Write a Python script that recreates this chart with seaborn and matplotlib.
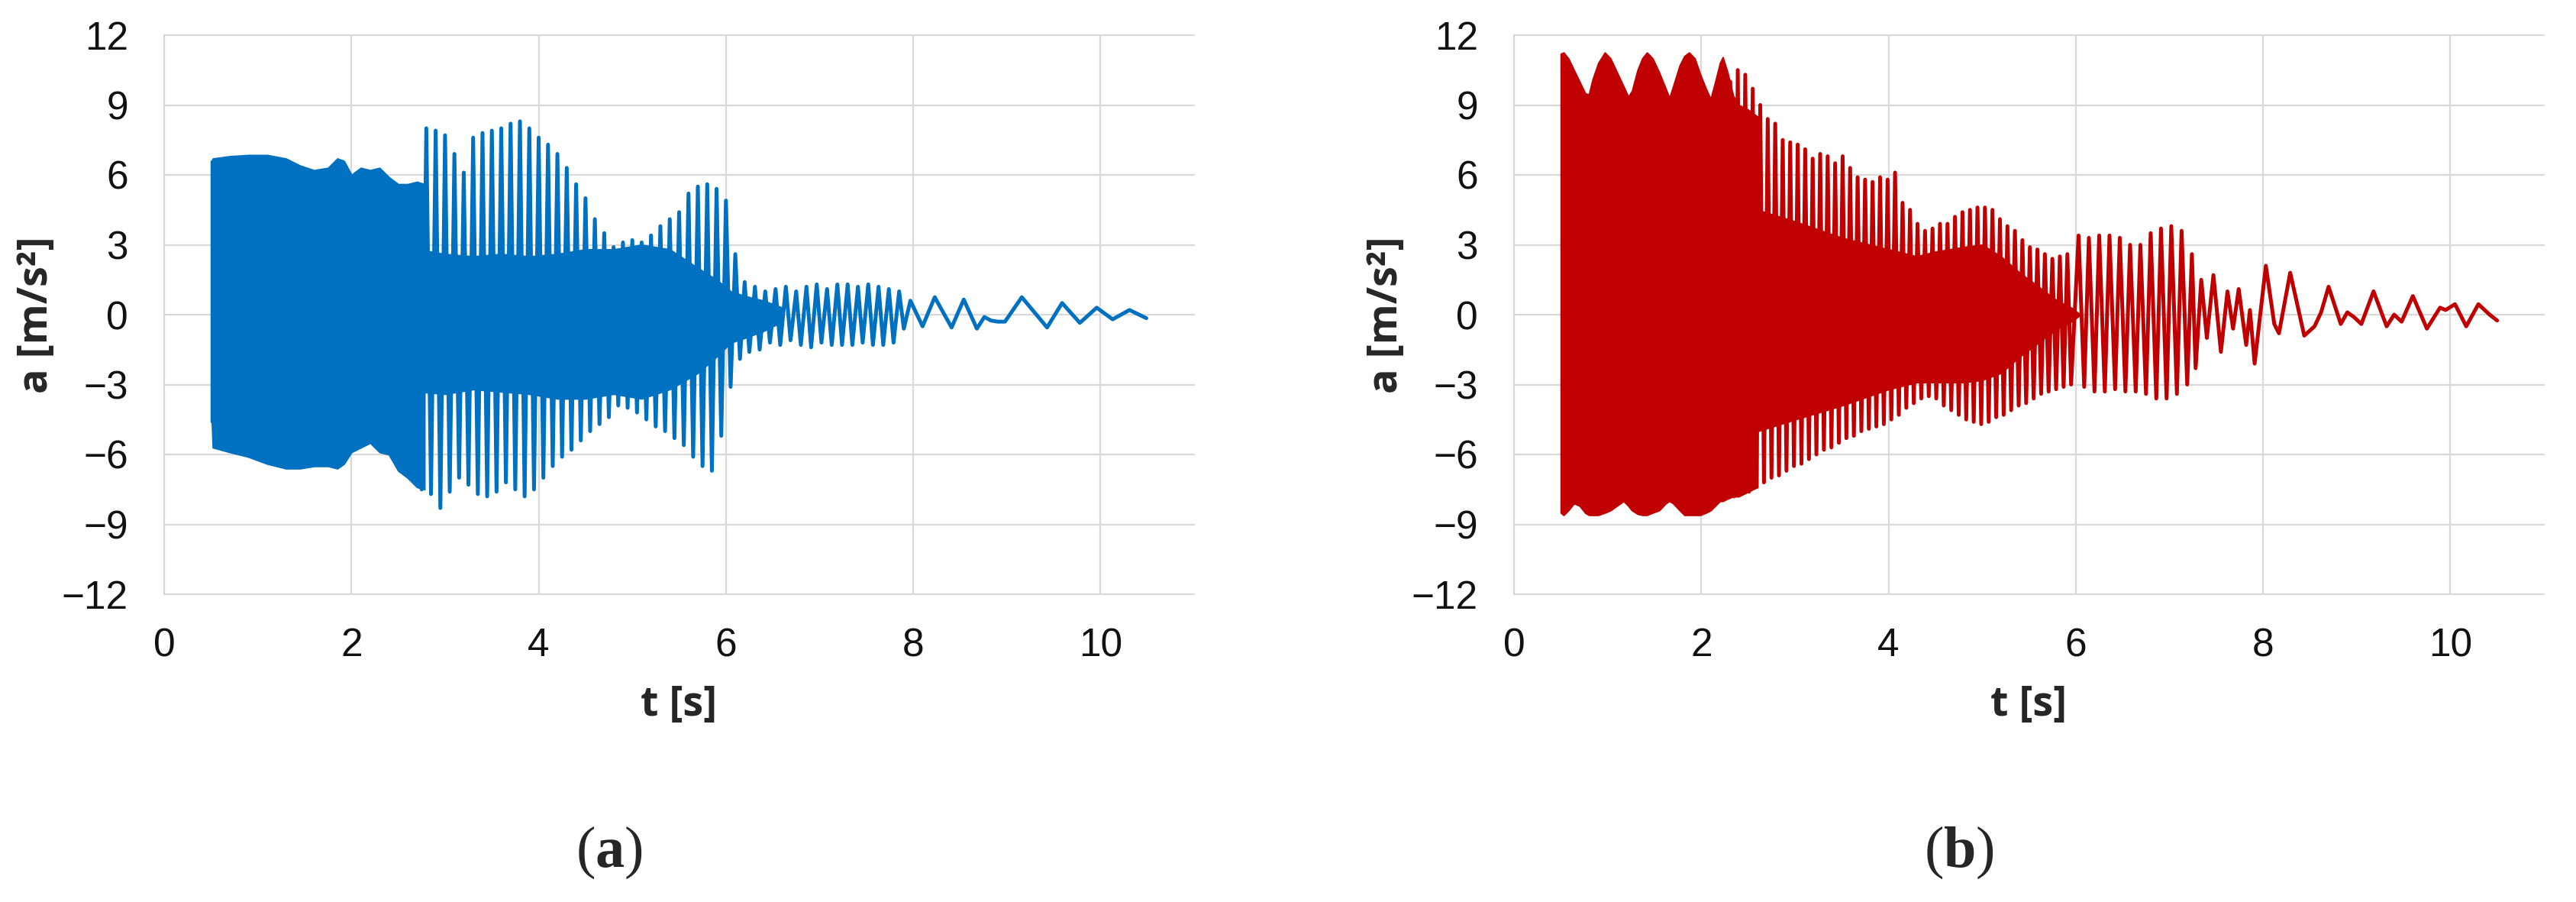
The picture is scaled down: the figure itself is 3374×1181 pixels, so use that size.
import matplotlib
matplotlib.use("Agg")
import matplotlib.pyplot as plt
import seaborn as sns
import numpy as np

# ---- (a) blue signal ----
# dense block at the start: upper / lower edge
t_band_a = [0.50, 0.51, 0.52, 0.70, 0.90, 1.10, 1.30, 1.45, 1.60, 1.75, 1.85,
            1.92, 2.00, 2.10, 2.20, 2.30, 2.40, 2.50, 2.60, 2.70, 2.78]
up_band_a = [6.6, 6.6, 6.7, 6.8, 6.85, 6.85, 6.7, 6.4, 6.2, 6.3, 6.7,
             6.6, 6.0, 6.3, 6.2, 6.3, 5.9, 5.6, 5.6, 5.7, 5.6]
lo_band_a = [-4.6, -4.6, -5.7, -5.9, -6.1, -6.4, -6.6, -6.6, -6.5, -6.5, -6.6,
             -6.4, -5.9, -5.7, -5.5, -5.9, -6.0, -6.7, -7.0, -7.4, -7.5]

# solid core under the spikes
t_core_a = [2.70, 3.0, 3.3, 3.6, 3.9, 4.2, 4.5, 4.8, 5.1, 5.4, 5.7, 5.9, 6.05, 6.2, 6.4, 6.6]
up_core_a = [2.8, 2.6, 2.5, 2.6, 2.5, 2.6, 2.8, 2.8, 3.0, 2.8, 2.0, 1.5, 1.0, 0.8, 0.6, 0.3]
lo_core_a = [-3.3, -3.4, -3.2, -3.3, -3.4, -3.6, -3.6, -3.4, -3.6, -3.2, -2.5, -1.8, -1.2, -1.0, -0.7, -0.3]

# peaks of the oscillation (max / min alternating)
t_osc_a = [2.75, 2.80, 2.85, 2.90, 2.95, 3.00, 3.05, 3.10, 3.15, 3.20,
           3.25, 3.30, 3.35, 3.40, 3.45, 3.50, 3.55, 3.60, 3.65, 3.70,
           3.75, 3.80, 3.85, 3.90, 3.95, 4.00, 4.05, 4.10, 4.15, 4.20,
           4.25, 4.30, 4.35, 4.40, 4.45, 4.50, 4.55, 4.60, 4.65, 4.70,
           4.75, 4.80, 4.85, 4.90, 4.95, 5.00, 5.05, 5.10, 5.15, 5.20,
           5.25, 5.30, 5.35, 5.40, 5.45, 5.50, 5.55, 5.60, 5.65, 5.70,
           5.75, 5.80, 5.85, 5.90, 5.95, 6.00, 6.05, 6.10,
           6.15, 6.20, 6.25, 6.31, 6.36, 6.42, 6.47, 6.53, 6.58, 6.64,
           6.69, 6.75, 6.80, 6.86, 6.91, 6.97, 7.02, 7.08, 7.13, 7.19,
           7.24, 7.30, 7.35, 7.41, 7.46, 7.52, 7.57, 7.63, 7.68, 7.74,
           7.79, 7.85, 7.90, 7.97, 8.10, 8.23, 8.41, 8.54, 8.68, 8.76,
           8.83, 8.90, 8.98, 9.16, 9.43, 9.59, 9.78, 9.96, 10.13, 10.31, 10.49]
a_osc_a = [-7.5, 8.0, -7.7, 7.9, -8.3, 7.7, -7.6, 6.9, -7.0, 6.1,
           -7.3, 7.6, -7.7, 7.8, -7.8, 7.9, -7.6, 8.0, -7.2, 8.2,
           -7.5, 8.3, -7.8, 8.0, -7.5, 7.6, -7.0, 7.3, -6.5, 6.9,
           -6.1, 6.3, -5.8, 5.6, -5.4, 5.0, -5.0, 4.1, -4.7, 3.5,
           -4.4, 2.9, -3.9, 3.1, -4.0, 3.2, -4.2, 3.1, -4.5, 3.4,
           -4.8, 3.8, -5.0, 4.1, -5.3, 4.4, -5.6, 5.2, -6.1, 5.5,
           -6.5, 5.6, -6.7, 5.4, -5.2, 4.9, -3.1, 2.6,
           -1.9, 1.4, -1.6, 1.2, -1.5, 1.0, -1.2, 1.1, -1.3, 1.2,
           -1.1, 1.0, -1.3, 1.2, -1.4, 1.3, -1.2, 1.1, -1.3, 1.3,
           -1.3, 1.3, -1.3, 1.2, -1.2, 1.3, -1.3, 1.2, -1.3, 1.1,
           -1.2, 1.0, -0.6, 0.6, -0.5, 0.75, -0.55, 0.65, -0.6, -0.1,
           -0.25, -0.3, -0.3, 0.75, -0.55, 0.5, -0.35, 0.3, -0.2, 0.2, -0.15]

# ---- (b) red signal ----
t_band_b = [0.50, 0.53, 0.58, 0.64, 0.70, 0.76, 0.80, 0.84, 0.90, 0.97,
            1.03, 1.10, 1.17, 1.22, 1.26, 1.32, 1.37, 1.42, 1.48, 1.55,
            1.62, 1.66, 1.70, 1.77, 1.82, 1.87, 1.93, 1.99, 2.05, 2.10,
            2.15, 2.20, 2.23, 2.28, 2.34, 2.40, 2.50, 2.60]
up_band_b = [11.2, 11.25, 11.0, 10.5, 10.0, 9.5, 9.45, 10.1, 10.8, 11.25,
             11.0, 10.4, 9.8, 9.35, 9.6, 10.5, 11.0, 11.25, 11.0, 10.4,
             9.7, 9.3, 9.8, 10.7, 11.1, 11.25, 11.0, 10.3, 9.7, 9.25,
             10.0, 10.8, 11.05, 10.4, 9.4, 9.0, 8.8, 8.5]
lo_band_b = [-8.5, -8.6, -8.4, -8.1, -8.2, -8.5, -8.6, -8.6, -8.6, -8.5,
             -8.4, -8.2, -8.0, -8.2, -8.4, -8.55, -8.6, -8.6, -8.5, -8.4,
             -8.1, -8.0, -8.1, -8.4, -8.6, -8.6, -8.6, -8.6, -8.5, -8.4,
             -8.2, -8.0, -8.0, -7.9, -7.8, -7.8, -7.6, -7.4]

t_core_b = [2.60, 3.0, 3.5, 4.0, 4.3, 4.5, 4.8, 5.0, 5.2, 5.4, 5.6, 5.8, 5.95, 6.05]
up_core_b = [4.5, 4.0, 3.3, 2.8, 2.5, 2.7, 2.9, 3.0, 2.5, 1.8, 1.2, 0.6, 0.3, 0.0]
lo_core_b = [-5.0, -4.5, -3.9, -3.2, -2.9, -2.9, -2.9, -2.8, -2.5, -1.8, -1.2, -0.6, -0.3, 0.0]

t_osc_b = [2.31, 2.35, 2.39, 2.43, 2.47, 2.51, 2.55, 2.59, 2.63, 2.67,
           2.71, 2.75, 2.79, 2.83, 2.87, 2.91, 2.95, 2.99, 3.03, 3.07,
           3.11, 3.15, 3.19, 3.23, 3.27, 3.31, 3.35, 3.39, 3.43, 3.47,
           3.51, 3.55, 3.59, 3.63, 3.67, 3.71, 3.75, 3.79, 3.83, 3.87,
           3.91, 3.95, 3.99, 4.03, 4.07, 4.11, 4.15, 4.19, 4.23, 4.27,
           4.31, 4.35, 4.39, 4.43, 4.47, 4.51, 4.55, 4.59, 4.63, 4.67,
           4.71, 4.75, 4.79, 4.83, 4.87, 4.91, 4.95, 4.99, 5.03, 5.07,
           5.11, 5.15, 5.19, 5.23, 5.27, 5.31, 5.35, 5.39, 5.43, 5.47,
           5.51, 5.55, 5.59, 5.63, 5.67, 5.71, 5.75, 5.79, 5.83, 5.87,
           5.91, 5.95, 6.03, 6.09, 6.14, 6.20, 6.25, 6.31, 6.36, 6.42,
           6.47, 6.53, 6.58, 6.64, 6.69, 6.75, 6.80, 6.86, 6.91, 6.97,
           7.02, 7.08, 7.13, 7.19, 7.24, 7.28, 7.34, 7.40, 7.47, 7.55,
           7.62, 7.68, 7.74, 7.82, 7.86, 7.91, 8.03, 8.12, 8.17, 8.29,
           8.44, 8.55, 8.62, 8.70, 8.83, 8.90, 8.97, 9.05, 9.18, 9.32,
           9.40, 9.48, 9.60, 9.75, 9.89, 9.95, 10.05, 10.17, 10.30, 10.42, 10.50]
a_osc_b = [10.0, -7.8, 10.5, -7.7, 10.3, -7.6, 9.7, -7.4, 9.0, -7.2,
           8.4, -7.0, 8.2, -6.9, 7.5, -6.7, 7.4, -6.5, 7.3, -6.4,
           7.1, -6.2, 6.7, -6.0, 6.9, -5.8, 6.8, -5.7, 6.5, -5.5,
           6.8, -5.3, 6.3, -5.2, 5.9, -5.0, 5.8, -4.9, 5.7, -4.8,
           5.9, -4.7, 5.8, -4.5, 6.1, -4.3, 4.8, -4.0, 4.5, -3.8,
           3.9, -3.6, 3.6, -3.5, 3.7, -3.6, 3.9, -3.9, 3.9, -4.1,
           4.2, -4.3, 4.4, -4.5, 4.5, -4.6, 4.6, -4.7, 4.6, -4.6,
           4.5, -4.4, 4.1, -4.3, 3.8, -4.1, 3.6, -3.9, 3.2, -3.8,
           2.9, -3.6, 2.8, -3.4, 2.6, -3.3, 2.4, -3.2, 2.5, -3.1,
           2.6, -3.0, 3.4, -3.1, 3.3, -3.3, 3.4, -3.3, 3.4, -3.2,
           3.3, -3.3, 3.0, -3.3, 3.0, -3.4, 3.5, -3.6, 3.7, -3.6,
           3.8, -3.4, 3.6, -3.0, 2.6, -2.3, 1.5, -1.0, 1.7, -1.6,
           1.0, -0.6, 1.1, -1.3, 0.2, -2.1, 2.1, -0.4, -0.8, 1.8,
           -0.9, -0.5, 0.1, 1.2, -0.4, 0.1, -0.1, -0.4, 1.0, -0.5,
           0.0, -0.3, 0.8, -0.6, 0.3, 0.2, 0.45, -0.5, 0.45, 0.0, -0.25]

panels = [
    dict(band=(t_band_a, up_band_a, lo_band_a), core=(t_core_a, up_core_a, lo_core_a),
         osc=(t_osc_a, a_osc_a), color="#0070C0", tag="a", left=215),
    dict(band=(t_band_b, up_band_b, lo_band_b), core=(t_core_b, up_core_b, lo_core_b),
         osc=(t_osc_b, a_osc_b), color="#C00000", tag="b", left=1983),
]

sns.set_style("white")
plt.rcParams["font.family"] = ["Liberation Sans", "DejaVu Sans"]
plt.rcParams["mathtext.fontset"] = "custom"
plt.rcParams["mathtext.rm"] = "Liberation Serif"
plt.rcParams["mathtext.bf"] = "Liberation Serif:bold"

W, H = 3374, 1181
fig = plt.figure(figsize=(W / 100, H / 100), dpi=100)

for p in panels:
    ax = fig.add_axes([p["left"] / W, 1 - 778 / H, 1349 / W, 732 / H])
    col = p["color"]

    tb, ub, lb = p["band"]
    ax.fill_between(tb, lb, ub, color=col, lw=1.5, zorder=2)
    tc, uc, lc = p["core"]
    ax.fill_between(tc, lc, uc, color=col, lw=1.5, zorder=2)
    to, ao = p["osc"]
    sns.lineplot(x=to, y=ao, estimator=None, sort=False, color=col, lw=3.6, ax=ax, zorder=3)

    ax.set_xlim(0, 11)
    ax.set_ylim(-12, 12)
    ax.set_xticks([0, 2, 4, 6, 8, 10])
    ax.set_yticks(np.arange(-12, 13, 3))
    ax.set_axisbelow(True)
    ax.grid(True, color="#D9D9D9", lw=1.6)
    for gl in ax.get_xgridlines() + ax.get_ygridlines():
        gl.set_clip_on(False)
    for s in ax.spines.values():
        s.set_visible(False)
    ax.tick_params(axis="both", length=0, labelsize=37, colors="#111111")
    ax.tick_params(axis="y", pad=34)
    ax.tick_params(axis="x", pad=31)

    ax.set_xlabel("t [s]", fontsize=39, fontweight="bold", family=["Open Sans", "DejaVu Sans"])
    ax.set_ylabel("a [m/s²]", fontsize=39, fontweight="bold", family=["Open Sans", "DejaVu Sans"])
    ax.xaxis.set_label_coords(0.5, (778 - 923) / 732)
    ax.xaxis.label.set_va("center")
    ax.yaxis.set_label_coords((48 - 215) / 1349, 0.5)
    ax.yaxis.label.set_va("center")

    fig.text((p["left"] + 583) / W, 1 - 1116 / H, "(" + r"$\mathbf{" + p["tag"] + "}$" + ")",
             family="Liberation Serif", fontsize=55, ha="center", va="center")

fig.savefig("out.png", dpi=100)
